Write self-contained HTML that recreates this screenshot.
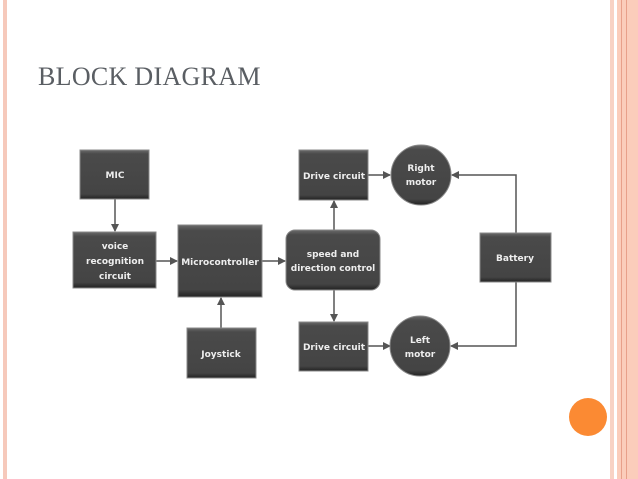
<!DOCTYPE html>
<html><head><style>
body{margin:0;width:638px;height:479px;background:#fff;position:relative;overflow:hidden;font-family:"Liberation Sans",sans-serif}
.t{position:absolute;left:38px;top:62px;font-family:"Liberation Serif",serif;font-size:26px;color:#5a5e63;letter-spacing:0.3px}
</style></head><body>
<div style="position:absolute;left:3px;top:0;width:4px;height:479px;background:#f6c9bb"></div>
<div style="position:absolute;left:610px;top:0;width:4px;height:479px;background:#f8d2c4"></div>
<div style="position:absolute;left:617px;top:0;width:21px;height:479px;background:#fbcdbb"></div>
<div style="position:absolute;left:621px;top:0;width:1px;height:479px;background:#e8a08a"></div>
<div style="position:absolute;left:626px;top:0;width:1px;height:479px;background:#e8a08a"></div>
<div style="position:absolute;left:569px;top:398px;width:38px;height:38px;border-radius:50%;background:#fb8a33"></div>
<div class="t">BLOCK DIAGRAM</div>
<svg width="638" height="479" style="position:absolute;left:0;top:0">
<defs>
<marker id="a" markerWidth="8" markerHeight="8" refX="7" refY="4" orient="auto" markerUnits="userSpaceOnUse"><path d="M0,0L8,4L0,8z" fill="#555"/></marker>
<linearGradient id="g" x1="0" y1="0" x2="0" y2="1"><stop offset="0" stop-color="#6a6a6a"/><stop offset="0.08" stop-color="#4a4a4a"/><stop offset="0.9" stop-color="#444"/><stop offset="1" stop-color="#222"/></linearGradient>
</defs>
<g stroke="#555" stroke-width="1.5" fill="none">
<line x1="115" y1="199" x2="115" y2="231" marker-end="url(#a)"/>
<line x1="156" y1="261" x2="177" y2="261" marker-end="url(#a)"/>
<line x1="221" y1="328" x2="221" y2="298" marker-end="url(#a)"/>
<line x1="262" y1="261" x2="285" y2="261" marker-end="url(#a)"/>
<line x1="334" y1="230" x2="334" y2="201" marker-end="url(#a)"/>
<line x1="334" y1="290" x2="334" y2="321" marker-end="url(#a)"/>
<line x1="368" y1="175" x2="390" y2="175" marker-end="url(#a)"/>
<line x1="368" y1="346" x2="390" y2="346" marker-end="url(#a)"/>
<polyline points="516,233 516,175 452,175" marker-end="url(#a)"/>
<polyline points="516,282 516,346 451,346" marker-end="url(#a)"/>
</g>
<g fill="url(#g)" stroke="#888" stroke-width="1">
<rect x="80" y="150" width="69" height="49"/>
<rect x="73" y="232" width="83" height="56"/>
<rect x="178" y="225" width="84" height="72"/>
<rect x="187" y="328" width="69" height="50"/>
<rect x="286" y="230" width="94" height="60" rx="9"/>
<rect x="299" y="150" width="69" height="50"/>
<rect x="299" y="322" width="69" height="49"/>
<rect x="480" y="233" width="71" height="49"/>
<circle cx="421" cy="175" r="30"/>
<circle cx="420" cy="346" r="30"/>
</g>
<g fill="#eee" font-family="DejaVu Sans,sans-serif" font-weight="bold" font-size="9" text-anchor="middle">
<text x="115" y="178">MIC</text>
<text x="115" y="249">voice</text><text x="115" y="264">recognition</text><text x="115" y="279">circuit</text>
<text x="220" y="265">Microcontroller</text>
<text x="221" y="357">Joystick</text>
<text x="333" y="257">speed and</text><text x="333" y="271">direction control</text>
<text x="334" y="179">Drive circuit</text>
<text x="334" y="350">Drive circuit</text>
<text x="421" y="171">Right</text><text x="421" y="185">motor</text>
<text x="420" y="343">Left</text><text x="420" y="357">motor</text>
<text x="515" y="261">Battery</text>
</g>
</svg>
</body></html>
